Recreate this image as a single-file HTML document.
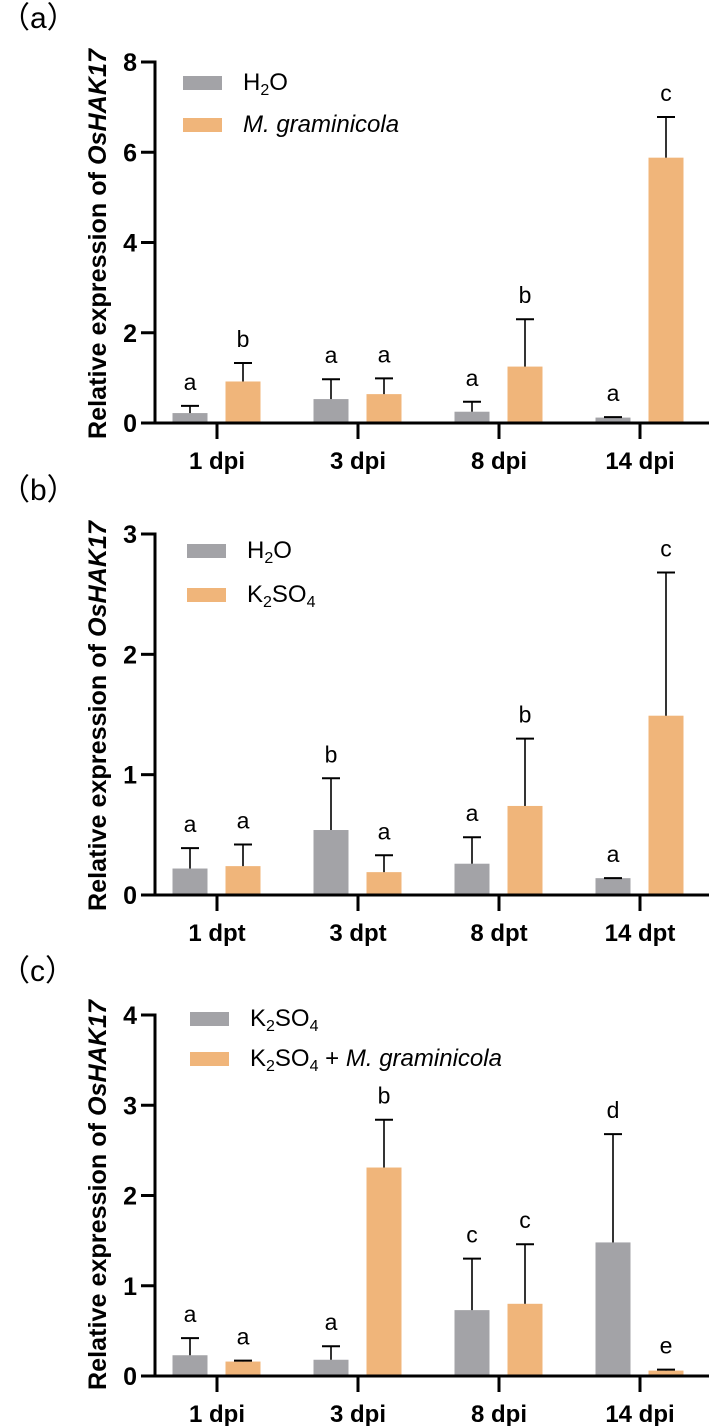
<!DOCTYPE html>
<html><head><meta charset="utf-8">
<style>
html,body{margin:0;padding:0;background:#fff;}
svg{display:block;}
text{font-family:"Liberation Sans","Noto Sans CJK SC",sans-serif;}
</style></head>
<body>
<svg id="fig" width="709" height="1426" viewBox="0 0 709 1426" xmlns="http://www.w3.org/2000/svg"></svg>
<script>
// Panel (a)
const catsA = ["1 dpi","3 dpi","8 dpi","14 dpi"];
const grayA = [0.22,0.53,0.25,0.12];
const grayErrA = [0.38,0.97,0.47,0.13];
const orangeA = [0.92,0.64,1.25,5.88];
const orangeErrA = [1.33,0.99,2.3,6.78];
const grayLetA = ["a","a","a","a"];
const orangeLetA = ["b","a","b","c"];
const ticksA = [0,2,4,6,8];
// Panel (b)
const catsB = ["1 dpt","3 dpt","8 dpt","14 dpt"];
const grayB = [0.22,0.54,0.26,0.14];
const grayErrB = [0.39,0.97,0.48,0.14];
const orangeB = [0.24,0.19,0.74,1.49];
const orangeErrB = [0.42,0.33,1.3,2.68];
const grayLetB = ["a","b","a","a"];
const orangeLetB = ["a","a","b","c"];
const ticksB = [0,1,2,3];
// Panel (c)
const catsC = ["1 dpi","3 dpi","8 dpi","14 dpi"];
const grayC = [0.23,0.18,0.73,1.48];
const grayErrC = [0.42,0.33,1.3,2.68];
const orangeC = [0.16,2.31,0.8,0.06];
const orangeErrC = [0.17,2.84,1.46,0.07];
const grayLetC = ["a","a","c","d"];
const orangeLetC = ["a","b","c","e"];
const ticksC = [0,1,2,3,4];

const NS = "http://www.w3.org/2000/svg";
const svg = document.getElementById("fig");
function mk(tag, attrs, parent, txt){
  const e = document.createElementNS(NS, tag);
  for (const k in attrs) e.setAttribute(k, attrs[k]);
  if (txt !== undefined) e.textContent = txt;
  (parent || svg).appendChild(e);
  return e;
}
const GRAY = "#a3a3a7", ORANGE = "#f0b57a";
const tickX = [217,358,499,640];

function panel(o){
  const g = mk("g", {});
  
  
  const axX = 155, y0 = o.y0, yTop = o.yTop, ymax = o.ticks[o.ticks.length-1];
  const ys = v => y0 - (v / ymax) * (y0 - yTop);
  const pl = mk("text", {x: 0, y: o.yTop - 34, "font-size": 30, "font-family": "Noto Sans CJK SC, sans-serif"}, g, "（" + o.id + "）");
  
  
  for (let i = 0; i < o.cats.length; i++){
    [[o.gv, o.ge, o.gl, GRAY, -27, 'gray'], [o.ov, o.oe, o.ol, ORANGE, 26, 'orange']].forEach(s => {
      const cx = tickX[i] + s[4];
      const top = ys(s[0][i]), cap = ys(s[1][i]);
      const r = mk("rect", {x: cx - 17.5, y: top, width: 35, height: y0 - top, fill: s[3]}, g);
      
      
      const ln = mk("line", {x1: cx, x2: cx, y1: top, y2: cap, stroke: "#000", "stroke-width": 1.6}, g);
      
      
      const cp = mk("line", {x1: cx - 9, x2: cx + 9, y1: cap, y2: cap, stroke: "#000", "stroke-width": 2}, g);
      
      
      const lt = mk("text", {x: cx, y: cap - 16, "text-anchor": "middle", "font-size": 23}, g, s[2][i]);
      
      
    });
  }
  const ya = mk("line", {x1: axX, x2: axX, y1: yTop - 1.5, y2: y0 + 1.5, stroke: "#000", "stroke-width": 3}, g);
  
  
  const xa = mk("line", {x1: axX - 1.5, x2: 709, y1: y0, y2: y0, stroke: "#000", "stroke-width": 3}, g);
  
  
  o.ticks.forEach(t => {
    const y = ys(t);
    const tl = mk("line", {x1: axX - 14, x2: axX, y1: y, y2: y, stroke: "#000", "stroke-width": 3}, g);
    
    
    const tx = mk("text", {x: 137, y: y + 9, "text-anchor": "end", "font-size": 25, "font-weight": "bold"}, g, String(t));
    
    
  });
  o.cats.forEach((c, i) => {
    const tl = mk("line", {x1: tickX[i], x2: tickX[i], y1: y0, y2: y0 + 16, stroke: "#000", "stroke-width": 3}, g);
    
    
    const tx = mk("text", {x: tickX[i], y: y0 + 46, "text-anchor": "middle", "font-size": 24, "font-weight": "bold"}, g, c);
    
    
  });
  const yt = mk("text", {x: 0, y: 0, "text-anchor": "middle", "font-size": 25, "font-weight": "bold", textLength: 390, lengthAdjust: "spacingAndGlyphs", transform: "translate(106," + o.titleY + ") rotate(-90)"}, g);
  
  
  mk("tspan", {}, yt, "Relative expression of ");
  mk("tspan", {"font-style": "italic"}, yt, "OsHAK17");
  o.legend.forEach((L, k) => {
    const lg = mk("g", {}, g);
    
    
    mk("rect", {x: o.lx, y: L.y, width: 39, height: 14, fill: k ? ORANGE : GRAY}, lg);
    const t = mk("text", {x: o.lx + 60, y: L.y + 14, "font-size": 24}, lg);
    L.parts.forEach(p => {
      const a = {};
      if (p.i) a["font-style"] = "italic";
      if (p.s) { a["font-size"] = 16; a["dy"] = 5; }
      if (p.u) a["dy"] = -5;
      mk("tspan", a, t, p.t);
    });
  });
}

panel({id:"a", cats:catsA, gv:grayA, ge:grayErrA, ov:orangeA, oe:orangeErrA, gl:grayLetA, ol:orangeLetA, ticks:ticksA,
  y0:423, yTop:62, titleY:244, lx:183,
  legend:[{y:76, parts:[{t:"H"},{t:"2",s:1},{t:"O",u:1}]},{y:118, parts:[{t:"M. graminicola",i:1}]}]});
panel({id:"b", cats:catsB, gv:grayB, ge:grayErrB, ov:orangeB, oe:orangeErrB, gl:grayLetB, ol:orangeLetB, ticks:ticksB,
  y0:895, yTop:534, titleY:716, lx:187,
  legend:[{y:544, parts:[{t:"H"},{t:"2",s:1},{t:"O",u:1}]},{y:588, parts:[{t:"K"},{t:"2",s:1},{t:"SO",u:1},{t:"4",s:1}]}]});
panel({id:"c", cats:catsC, gv:grayC, ge:grayErrC, ov:orangeC, oe:orangeErrC, gl:grayLetC, ol:orangeLetC, ticks:ticksC,
  y0:1376, yTop:1015, titleY:1195, lx:190,
  legend:[{y:1012, parts:[{t:"K"},{t:"2",s:1},{t:"SO",u:1},{t:"4",s:1}]},{y:1052, parts:[{t:"K"},{t:"2",s:1},{t:"SO",u:1},{t:"4",s:1},{t:" + ",u:1},{t:"M. graminicola",i:1}]}]});
</script>
</body></html>
